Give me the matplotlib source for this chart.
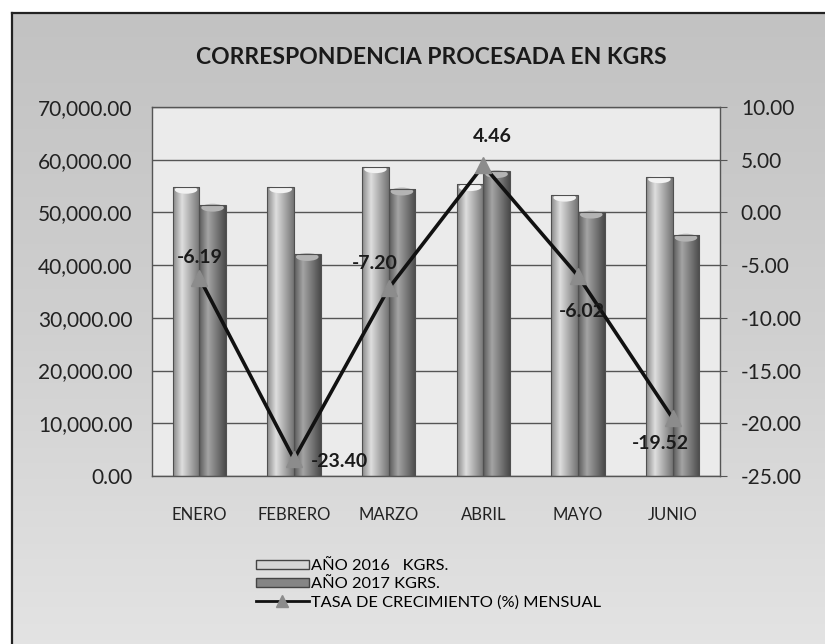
import matplotlib.pyplot as plt
import numpy as np
from matplotlib.colors import LinearSegmentedColormap
from matplotlib.lines import Line2D
from matplotlib.patches import Ellipse, Patch

months = ["ENERO", "FEBRERO", "MARZO", "ABRIL", "MAYO", "JUNIO"]
kg_2016 = [54800, 54900, 58700, 55300, 53300, 56800]
kg_2017 = [51400, 42050, 54470, 57770, 50090, 45710]
tasa = [-6.19, -23.40, -7.20, 4.46, -6.02, -19.52]

left_ticks = [0, 10000, 20000, 30000, 40000, 50000, 60000, 70000]
right_ticks = [-25, -20, -15, -10, -5, 0, 5, 10]

plt.rcParams["font.family"] = ["Lato", "DejaVu Sans"]

fig = plt.figure(figsize=(8.25, 6.44), dpi=100, facecolor="white")

# outer chart area, light grey getting paler toward the bottom
bg = fig.add_axes([12 / 825, -0.02, 1.0, 1 - 13 / 644 + 0.02], zorder=-10)
bg_cmap = LinearSegmentedColormap.from_list("bg", ["#c2c2c2", "#d0d0d0", "#e4e4e4"])
bg.imshow(np.linspace(0, 1, 256).reshape(-1, 1), aspect="auto", cmap=bg_cmap,
          extent=[0, 1, 0, 1], origin="upper")
bg.set_xticks([])
bg.set_yticks([])
for s in bg.spines.values():
    s.set_edgecolor("#222222")
    s.set_linewidth(1.6)

ax = fig.add_axes([152 / 825, 1 - 476 / 644, (720 - 152) / 825, (476 - 107) / 644])
ax.set_facecolor("#ebebeb")
x = np.arange(len(months))
w = 0.28

light = LinearSegmentedColormap.from_list("light", ["#888888", "#dedede", "#a9a9a9", "#747474"])
dark = LinearSegmentedColormap.from_list("dark", ["#5a5a5a", "#a4a4a4", "#777777", "#4a4a4a"])
shade = np.linspace(0, 1, 100).reshape(1, -1)


def cylinder_bars(xs, vals, cmap, top_color):
    bars = ax.bar(xs, vals, w, color="none", edgecolor="#505050", linewidth=0.8, zorder=3)
    for b in bars:
        x0, h = b.get_x(), b.get_height()
        im = ax.imshow(shade, aspect="auto", cmap=cmap,
                       extent=[x0, x0 + w, 0, h], zorder=2.5)
        im.set_clip_path(b)
        ax.add_patch(Ellipse((x0 + w / 2, h - 500), w * 0.85, 1500,
                             facecolor=top_color, edgecolor="none", zorder=2.8))


cylinder_bars(x - w / 2, kg_2016, light, "#f2f2f2")
cylinder_bars(x + w / 2, kg_2017, dark, "#b4b4b4")

ax.set_xlim(-0.5, len(months) - 0.5)
ax.set_ylim(0, 70000)
ax.set_yticks(left_ticks)
ax.set_yticklabels([f"{v:,.2f}" for v in left_ticks])
ax.set_xticks(x)
ax.set_xticklabels(months)
ax.tick_params(axis="x", length=0, pad=22, labelsize=12, labelcolor="#222222")
ax.tick_params(axis="y", length=0, pad=14, labelsize=15, labelcolor="#222222")
ax.yaxis.grid(True, color="#555555", linewidth=1.0, zorder=1)
ax.set_axisbelow(True)
for s in ax.spines.values():
    s.set_edgecolor("#555555")
    s.set_linewidth(1.0)

ax2 = ax.twinx()
ax2.set_ylim(-25, 10)
ax2.set_yticks(right_ticks)
ax2.set_yticklabels([f"{v:.2f}" for v in right_ticks])
ax2.tick_params(axis="y", length=5, pad=10, labelsize=15, color="#555555", labelcolor="#222222")
for s in ax2.spines.values():
    s.set_visible(False)
ax2.plot(x, tasa, color="#111111", linewidth=2.6, marker="^", markersize=12,
         markerfacecolor="#8c8c8c", markeredgecolor="#8c8c8c", zorder=5)

offsets = [(0.0, 1.9), (0.48, -0.2), (-0.15, 2.4), (0.09, 2.7), (0.04, -3.4), (-0.13, -2.4)]
for xi, v, (dx, dy) in zip(x, tasa, offsets):
    ax2.text(xi + dx, v + dy, f"{v:.2f}", ha="center", va="center",
             fontsize=14, fontweight="bold", color="#1a1a1a", zorder=6)

fig.text(0.523, 1 - 57 / 644, "CORRESPONDENCIA PROCESADA EN KGRS", ha="center", va="center",
         fontsize=16.5, fontweight="bold", color="#1a1a1a")

handles = [
    Patch(facecolor="#d6d6d6", edgecolor="#444444", label="AÑO 2016   KGRS."),
    Patch(facecolor="#858585", edgecolor="#444444", label="AÑO 2017 KGRS."),
    Line2D([0], [0], color="#111111", linewidth=2, marker="^", markersize=8,
           markerfacecolor="#8c8c8c", markeredgecolor="#8c8c8c",
           label="TASA DE CRECIMIENTO (%) MENSUAL"),
]
fig.legend(handles=handles, loc="upper left", bbox_to_anchor=(248 / 825, 1 - 551 / 644),
           frameon=False, fontsize=11.8, handlelength=3.2, handleheight=0.5,
           handletextpad=0.15, labelspacing=0.25, borderpad=0)

fig.savefig("out.png", dpi=100, facecolor="white")
